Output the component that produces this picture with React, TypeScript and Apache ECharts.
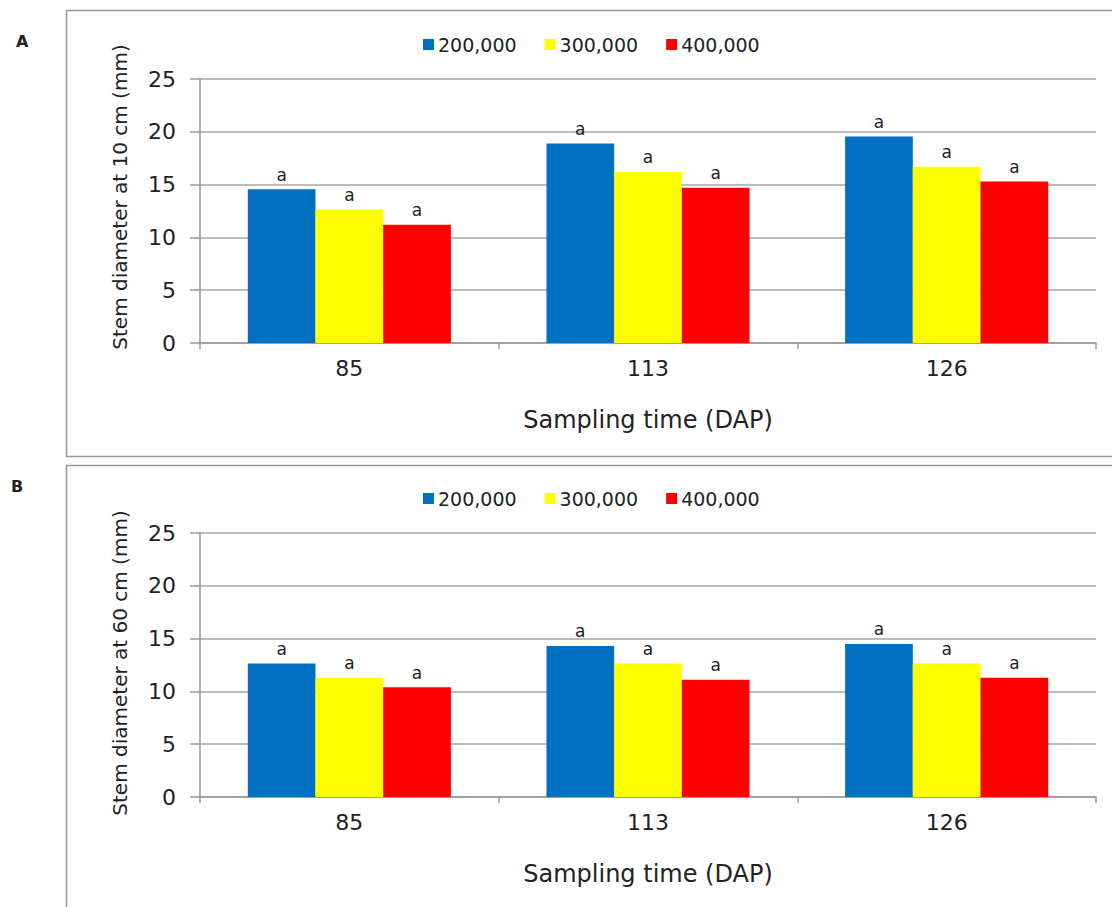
import React, { useEffect, useRef } from "react";
import * as echarts from "echarts";

const categories = ["85", "113", "126"];
const seriesNames = ["200,000", "300,000", "400,000"];
const colors = ["#0070C0", "#FFFF00", "#FF0000"];
const panelA200 = [14.55, 18.9, 19.55];
const panelA300 = [12.65, 16.2, 16.7];
const panelA400 = [11.2, 14.7, 15.3];
const panelB200 = [12.65, 14.3, 14.5];
const panelB300 = [11.3, 12.65, 12.65];
const panelB400 = [10.4, 11.1, 11.3];
const sigLetters = ["a", "a", "a"];
const yTitles = ["Stem diameter at 10 cm (mm)", "Stem diameter at 60 cm (mm)"];
const xTitle = "Sampling time (DAP)";

const FONT = "DejaVu Sans, Verdana, sans-serif";

export default function App() {
  const ref = useRef<HTMLDivElement>(null);
  useEffect(() => {
    document.body.style.margin = "0";
    const chart = echarts.init(ref.current!, null, { renderer: "svg" });
    const panels = [
      [panelA200, panelA300, panelA400],
      [panelB200, panelB300, panelB400],
    ];
    const series: any[] = [];
    panels.forEach((p, gi) => {
      p.forEach((vals, si) => {
        series.push({
          type: "bar",
          name: seriesNames[si],
          xAxisIndex: gi,
          yAxisIndex: gi,
          data: vals,
          barGap: "0%",
          barCategoryGap: "32%",
          itemStyle: { color: colors[si] },
          label: {
            show: true,
            position: "top",
            distance: 6,
            formatter: (params: any) => sigLetters[params.dataIndex],
            fontFamily: FONT,
            fontSize: 17,
            color: "#222",
          },
        });
      });
    });
    const xAxisBase = (gi: number) => ({
      type: "category",
      gridIndex: gi,
      data: categories,
      name: xTitle,
      nameLocation: "middle",
      nameGap: 65,
      nameTextStyle: { fontFamily: FONT, fontSize: 24, color: "#222" },
      axisLine: { lineStyle: { color: "#999", width: 1.5 } },
      axisTick: { show: true, length: 6, alignWithLabel: false, lineStyle: { color: "#999", width: 1.5 } },
      axisLabel: { fontFamily: FONT, fontSize: 22, color: "#222", margin: 14 },
    });
    const yAxisBase = (gi: number) => ({
      type: "value",
      gridIndex: gi,
      min: 0,
      max: 25,
      interval: 5,
      axisLine: { show: true, lineStyle: { color: "#999", width: 1.5 } },
      axisTick: { show: true, inside: false, length: 10, lineStyle: { color: "#999", width: 1.5 } },
      axisLabel: { fontFamily: FONT, fontSize: 22, color: "#222", margin: 24 },
      splitLine: { lineStyle: { color: "#A6A6A6", width: 1.5 } },
    });
    const legendBase = (top: number) => ({
      top,
      left: 418,
      data: seriesNames,
      itemWidth: 11,
      itemHeight: 11,
      itemGap: 28,
      icon: "rect",
      textStyle: { fontFamily: FONT, fontSize: 19, color: "#222", padding: [0, 0, 0, -1] },
      selectedMode: false,
    });
    const yTitle = (text: string, cy: number) => ({
      type: "text",
      x: 120,
      y: cy,
      rotation: Math.PI / 2,
      style: {
        text,
        fontFamily: FONT,
        fontSize: 20,
        fill: "#222",
        align: "center",
        verticalAlign: "middle",
      },
    });
    chart.setOption({
      animation: false,
      backgroundColor: "#fff",
      grid: [
        { left: 200, top: 79, right: 16, height: 264, containLabel: false },
        { left: 200, top: 533, right: 16, height: 264, containLabel: false },
      ],
      legend: [legendBase(30), legendBase(484)],
      xAxis: [xAxisBase(0), xAxisBase(1)],
      yAxis: [yAxisBase(0), yAxisBase(1)],
      series,
      graphic: [
        {
          type: "rect",
          shape: { x: 66.5, y: 10.5, width: 1100, height: 446 },
          style: { fill: "none", stroke: "#999", lineWidth: 1.5 },
          silent: true,
          z: -1,
        },
        {
          type: "rect",
          shape: { x: 66.5, y: 465.5, width: 1100, height: 500 },
          style: { fill: "none", stroke: "#999", lineWidth: 1.5 },
          silent: true,
          z: -1,
        },
        yTitle(yTitles[0], 197),
        yTitle(yTitles[1], 663),
        {
          type: "text",
          x: 16,
          y: 33,
          style: { text: "A", fontFamily: FONT, fontSize: 16, fontWeight: "bold", fill: "#222" },
        },
        {
          type: "text",
          x: 11,
          y: 478,
          style: { text: "B", fontFamily: FONT, fontSize: 16, fontWeight: "bold", fill: "#222" },
        },
      ],
    });
    return () => chart.dispose();
  }, []);
  return <div ref={ref} style={{ width: 1112, height: 907 }} />;
}
